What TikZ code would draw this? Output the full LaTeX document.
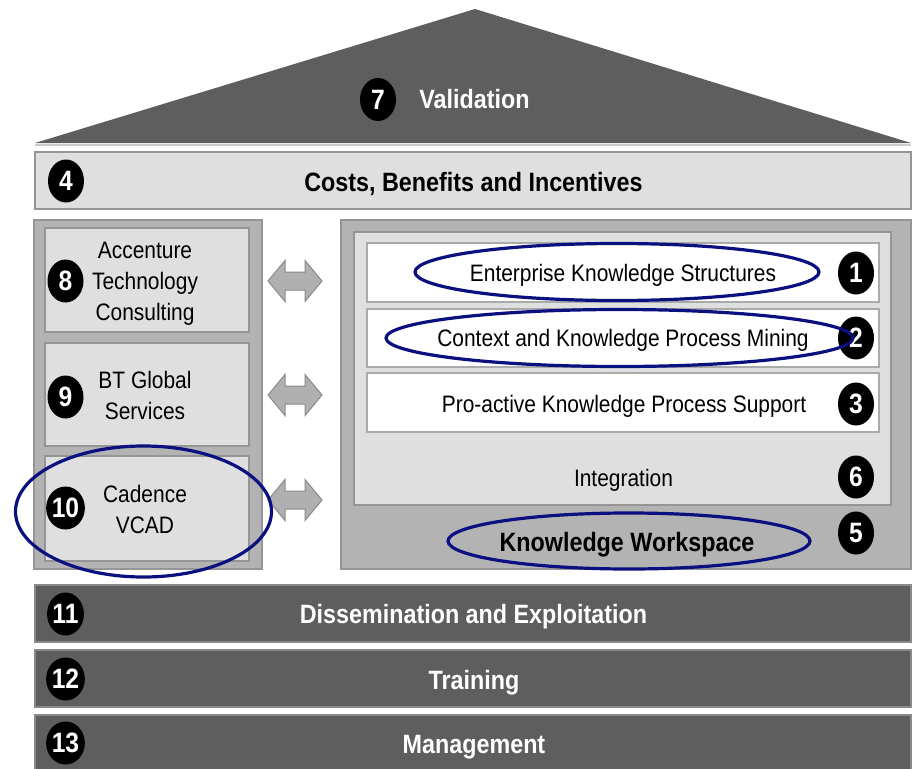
\documentclass[tikz,border=0pt]{standalone}
\usepackage{fontspec}
\setmainfont{Liberation Sans}[FakeStretch=0.88]
\usetikzlibrary{shapes.geometric}
\definecolor{roofgray}{HTML}{5E5E5E}
\definecolor{lightfill}{HTML}{DFDFDF}
\definecolor{midfill}{HTML}{B3B3B3}
\definecolor{edgegray}{HTML}{959595}
\definecolor{baredge}{HTML}{8A8A8A}
\definecolor{hlblue}{HTML}{0A1080}
\definecolor{arrowfill}{HTML}{B0B0B0}
\tikzset{
  box/.style={rectangle, inner sep=0, outer sep=0, line width=1.3pt, draw=edgegray, anchor=north west},
  lightbox/.style={box, fill=lightfill},
  midbox/.style={box, fill=midfill},
  rowbox/.style={box, fill=white, draw=edgegray!80},
  darkbar/.style={box, fill=roofgray, draw=baredge},
  num/.style={ellipse, fill=black, minimum width=36, minimum height=43, inner sep=0, text=white,
    font=\fontsize{28}{28}\selectfont\bfseries},
  regtext/.style={inner sep=0, anchor=base, font=\fontsize{23.8}{31}\selectfont},
  boldtext/.style={inner sep=0, anchor=base, font=\fontsize{26.5}{28}\selectfont\bfseries},
  sidetext/.style={inner sep=0, align=center, font=\fontsize{23.8}{31}\selectfont},
  hl/.style={ellipse, draw=hlblue, line width=3.2pt, inner sep=0},
  dblarrow/.pic={\draw[fill=arrowfill, draw=baredge, line width=1pt]
    (-27,0) -- (-10,-20.5) -- (-10,-9) -- (10,-9) -- (10,-20.5) -- (27,0)
    -- (10,20.5) -- (10,9) -- (-10,9) -- (-10,20.5) -- cycle;}
}
\begin{document}
\begin{tikzpicture}[x=1pt,y=-1pt]
\useasboundingbox[fill=white] (0,0) rectangle (914,769);
% roof
\coordinate (roofL) at (35,143);
\coordinate (roofR) at (911,143);
\coordinate (apex) at (475,9);
\fill[roofgray] (roofL) -- (apex) -- (roofR) -- cycle;
\draw[lightfill!80!gray, line width=2pt] ([yshift=-2]roofL) -- ([yshift=-2]roofR);
\node[num] (n7) at (378,99.5) {7};
\node[boldtext, text=white] (tVal) at (474.5,108.5) {Validation};
% costs bar
\node[lightbox, minimum width=876, minimum height=57] (costs) at (35,152) {};
\node[num] (n4) at (66,181) {4};
\node[boldtext] (tCosts) at (473.5,191.5) {Costs, Benefits and Incentives};
% left panel
\node[midbox, minimum width=228, minimum height=349] (leftpanel) at (34,220) {};
\node[lightbox, minimum width=204, minimum height=104] (b8) at (45,228) {};
\node[lightbox, minimum width=204, minimum height=103] (b9) at (45,343) {};
\node[lightbox, minimum width=204, minimum height=105] (b10) at (45,456) {};
\node[num] (n8) at (65.5,281) {8};
\node[num] (n9) at (65.5,397) {9};
\node[num] (n10) at (65.5,508) {10};
\node[sidetext] (t8) at (145,284) {Accenture\\Technology\\Consulting};
\node[sidetext] (t9) at (145,395) {BT Global\\Services};
\node[sidetext] (t10) at (145,509) {Cadence\\VCAD};
% arrows
\pic at (295,281) {dblarrow};
\pic at (295,395) {dblarrow};
\pic at (295,500) {dblarrow};
% right panel
\node[midbox, minimum width=570, minimum height=349] (rightpanel) at (341,220) {};
\node[lightbox, minimum width=537, minimum height=273] (integ) at (354,232) {};
\node[rowbox, minimum width=512, minimum height=59] (r1) at (367,243) {};
\node[rowbox, minimum width=512, minimum height=58] (r2) at (367,309) {};
\node[rowbox, minimum width=512, minimum height=59] (r3) at (367,373) {};
\node[regtext] (t1) at (623,281) {Enterprise Knowledge Structures};
\node[regtext] (t2) at (623,346) {Context and Knowledge Process Mining};
\node[regtext] (t3) at (624,412) {Pro-active Knowledge Process Support};
\node[regtext] (t6) at (623.5,486) {Integration};
\node[boldtext] (t5) at (627,551.5) {Knowledge Workspace};
\node[num] (n1) at (856,273) {1};
\node[num] (n2) at (856,338) {2};
\node[num] (n3) at (856,404) {3};
\node[num] (n6) at (856,477) {6};
\node[num] (n5) at (856,533) {5};
% bottom bars
\node[darkbar, minimum width=876, minimum height=57] (diss) at (35,585) {};
\node[darkbar, minimum width=876, minimum height=57] (train) at (35,650) {};
\node[darkbar, minimum width=876, minimum height=60] (manage) at (35,715) {};
\node[num] (n11) at (65.5,614) {11};
\node[num] (n12) at (65.5,679) {12};
\node[num] (n13) at (65.5,743) {13};
\node[boldtext, text=white] (tDiss) at (473.5,623.5) {Dissemination and Exploitation};
\node[boldtext, text=white] (tTrain) at (474,689) {Training};
\node[boldtext, text=white] (tMan) at (474,753) {Management};
% highlight ellipses
\node[hl, minimum width=404, minimum height=57] (e1) at (617,272) {};
\node[hl, minimum width=467, minimum height=57] (e2) at (619.5,338) {};
\node[hl, minimum width=362, minimum height=56] (e5) at (629,541) {};
\node[hl, minimum width=256, minimum height=131] (e10) at (143.5,511.5) {};
\end{tikzpicture}
\end{document}
